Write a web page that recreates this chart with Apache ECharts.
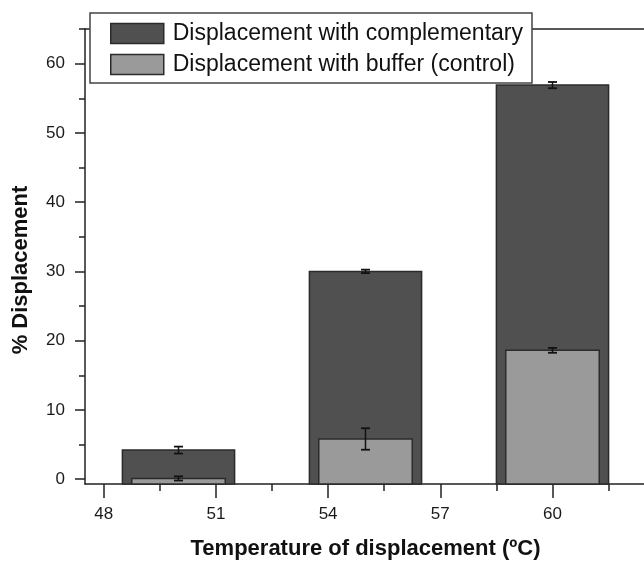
<!DOCTYPE html>
<html>
<head>
<meta charset="utf-8">
<script src="https://cdn.jsdelivr.net/npm/echarts@6/dist/echarts.min.js"></script>
<style>
  html, body { margin: 0; padding: 0; background: #fff; }
  #chart { width: 644px; height: 563px; }
</style>
</head>
<body>
<div id="chart"></div>
<script>
// temperatures (ºC) where the bars sit
const temps = [50, 55, 60];
// % displacement, with complementary strand
const complementary = [4.2, 30.0, 56.9];
const complementaryErr = [0.5, 0.25, 0.45];
// % displacement, buffer only (control)
const buffer = [0.1, 5.8, 18.6];
const bufferErr = [0.3, 1.55, 0.35];

const xMajorTicks = [48, 51, 54, 57, 60];
const xMinorTicks = [49.5, 52.5, 55.5, 58.5, 61.5];
const yMajorTicks = [0, 10, 20, 30, 40, 50, 60];
const yMinorTicks = [5, 15, 25, 35, 45, 55, 65];

const X_MIN = 47.5, X_MAX = 62.5;
const Y_MIN = -0.7, Y_MAX = 65;
const DARK_W = 3;   // bar width in ºC
const LIGHT_W = 2.5;

const font = 'Liberation Sans, Arial, sans-serif';
const axisColor = '#222';

const myChart = echarts.init(document.getElementById('chart'), null, { renderer: 'canvas' });

function barRenderer(values, errs, barW, fill) {
  return function (params, api) {
    const i = params.dataIndex;
    const x = temps[i];
    const v = values[i];
    const e = errs[i];
    const p0 = api.coord([x - barW / 2, Y_MIN]);
    const p1 = api.coord([x + barW / 2, v]);
    const top = api.coord([x, v + e]);
    const bot = api.coord([x, v - e]);
    const cap = 4.5;
    return {
      type: 'group',
      children: [
        {
          type: 'rect',
          shape: { x: p0[0], y: p1[1], width: p1[0] - p0[0], height: p0[1] - p1[1] },
          style: { fill: fill, stroke: '#2b2b2b', lineWidth: 1.5 }
        },
        {
          type: 'line',
          shape: { x1: top[0], y1: top[1], x2: bot[0], y2: bot[1] },
          style: { stroke: '#111', lineWidth: 1.5 }
        },
        {
          type: 'line',
          shape: { x1: top[0] - cap, y1: top[1], x2: top[0] + cap, y2: top[1] },
          style: { stroke: '#111', lineWidth: 1.8 }
        },
        {
          type: 'line',
          shape: { x1: bot[0] - cap, y1: bot[1], x2: bot[0] + cap, y2: bot[1] },
          style: { stroke: '#111', lineWidth: 1.8 }
        }
      ]
    };
  };
}

const option = {
  animation: false,
  backgroundColor: '#fff',
  grid: { left: 85, top: 29, width: 561, height: 455, outerBoundsMode: 'none', containLabel: false },
  legend: {
    orient: 'vertical',
    left: 90,
    top: 13,
    z: 10,
    backgroundColor: '#fff',
    borderColor: '#444',
    borderWidth: 1.5,
    padding: [9, 9, 7, 20],
    itemWidth: 53,
    itemHeight: 20,
    itemGap: 8,
    textStyle: { fontFamily: font, fontSize: 23, color: '#111', padding: [0, 0, 0, 4] },
    data: [
      { name: 'Displacement with complementary', icon: 'rect',
        itemStyle: { color: '#505050', borderColor: '#2b2b2b', borderWidth: 1.5 } },
      { name: 'Displacement with buffer (control)', icon: 'rect',
        itemStyle: { color: '#9a9a9a', borderColor: '#2b2b2b', borderWidth: 1.5 } }
    ]
  },
  xAxis: [
    {
      type: 'value', position: 'bottom', min: X_MIN, max: X_MAX,
      axisLine: { onZero: false, lineStyle: { color: axisColor, width: 1.5 } },
      axisTick: { customValues: xMajorTicks, length: 14, lineStyle: { color: axisColor, width: 1.5 } },
      axisLabel: { customValues: xMajorTicks, margin: 22, fontFamily: font, fontSize: 17, color: '#1a1a1a' },
      splitLine: { show: false },
      name: 'Temperature of displacement (ºC)',
      nameLocation: 'middle',
      nameGap: 54,
      nameTextStyle: { fontFamily: font, fontSize: 22, fontWeight: 'bold', color: '#111' }
    },
    {
      type: 'value', position: 'bottom', min: X_MIN, max: X_MAX,
      axisLine: { show: false, onZero: false },
      axisTick: { customValues: xMinorTicks, length: 7, lineStyle: { color: axisColor, width: 1.5 } },
      axisLabel: { show: false },
      splitLine: { show: false }
    },
    {
      type: 'value', position: 'top', min: X_MIN, max: X_MAX,
      axisLine: { onZero: false, lineStyle: { color: axisColor, width: 1.5 } },
      axisTick: { show: false },
      axisLabel: { show: false },
      splitLine: { show: false }
    }
  ],
  yAxis: [
    {
      type: 'value', position: 'left', min: Y_MIN, max: Y_MAX,
      axisLine: { show: true, onZero: false, lineStyle: { color: axisColor, width: 1.5 } },
      axisTick: { show: true, customValues: yMajorTicks, length: 10, lineStyle: { color: axisColor, width: 1.5 } },
      axisLabel: { customValues: yMajorTicks, margin: 20, fontFamily: font, fontSize: 17, color: '#1a1a1a' },
      splitLine: { show: false }
    },
    {
      type: 'value', position: 'left', min: Y_MIN, max: Y_MAX,
      axisLine: { show: false, onZero: false },
      axisTick: { show: true, customValues: yMinorTicks, length: 6, lineStyle: { color: axisColor, width: 1.5 } },
      axisLabel: { show: false },
      splitLine: { show: false }
    }
  ],
  graphic: [
    {
      type: 'text',
      x: 21,
      y: 270,
      rotation: Math.PI / 2,
      style: {
        text: '% Displacement',
        fontFamily: font,
        fontSize: 22,
        fontWeight: 'bold',
        fill: '#111',
        align: 'center',
        verticalAlign: 'middle'
      }
    }
  ],
  series: [
    {
      name: 'Displacement with complementary',
      type: 'custom',
      xAxisIndex: 0,
      yAxisIndex: 0,
      itemStyle: { color: '#505050' },
      renderItem: barRenderer(complementary, complementaryErr, DARK_W, '#505050'),
      data: temps.map((t, i) => [t, complementary[i]])
    },
    {
      name: 'Displacement with buffer (control)',
      type: 'custom',
      xAxisIndex: 0,
      yAxisIndex: 0,
      itemStyle: { color: '#9a9a9a' },
      renderItem: barRenderer(buffer, bufferErr, LIGHT_W, '#9a9a9a'),
      data: temps.map((t, i) => [t, buffer[i]])
    }
  ]
};

myChart.setOption(option, true);
</script>
</body>
</html>
